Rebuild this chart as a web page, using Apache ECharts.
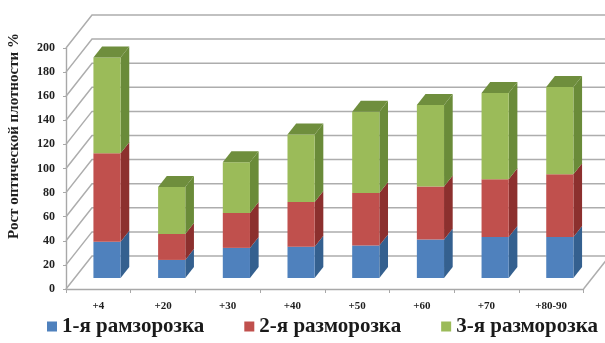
<!DOCTYPE html>
<html>
<head>
<meta charset="utf-8">
<script src="https://cdn.jsdelivr.net/npm/echarts@6/dist/echarts.min.js"></script>
<style>
  html, body { margin: 0; padding: 0; background: #ffffff; }
  #chart { width: 605px; height: 343px; }
</style>
</head>
<body>
<div id="chart"></div>
<script>
// Temperature groups on the x axis
const categories = ['+4', '+20', '+30', '+40', '+50', '+60', '+70', '+80-90'];
// Growth of optical density per thaw cycle, %
const thaw1 = [30, 15, 25, 26, 27, 32, 34, 34];
const thaw2 = [73.5, 21.5, 29, 37, 43.5, 44, 48, 52];
const thaw3 = [79.5, 39, 42, 56, 67.5, 67.5, 71.5, 72.5];
const seriesNames = ['1-я рамзорозка', '2-я разморозка', '3-я разморозка'];
const yTicks = [0, 20, 40, 60, 80, 100, 120, 140, 160, 180, 200];
const yTitle = 'Рост оптической плотности %';

// Oblique projection used for the pseudo-3D look
const WALL_DX = 26, WALL_DY = -33;          // depth of the back wall
const BAR_FX = WALL_DX / 3, BAR_FY = WALL_DY / 3;  // bar front plane shift
const BAR_DX = WALL_DX / 3, BAR_DY = WALL_DY / 3;  // bar thickness in depth
const BAR_RATIO = 0.42;

const palette = [
  { front: '#4F81BD', side: '#34608F', top: '#5A8AC3' },
  { front: '#C0504D', side: '#8C302E', top: '#C85C59' },
  { front: '#9BBB59', side: '#6A8B39', top: '#6F8E3D' }
];

const raw = [thaw1, thaw2, thaw3];
// Stacked bases and tops for each segment
const stacks = raw.map(() => []);
categories.forEach((c, i) => {
  let acc = 0;
  raw.forEach((arr, s) => {
    stacks[s].push([i, acc, acc + arr[i]]);
    acc += arr[i];
  });
});

function barRenderer(sIdx, isTopSeries) {
  const col = palette[sIdx];
  return function (params, api) {
    const i = api.value(0);
    const p0 = api.coord([i, api.value(1)]);
    const p1 = api.coord([i, api.value(2)]);
    const hw = api.size([1, 0])[0] * BAR_RATIO / 2;
    const x1 = p0[0] - hw + BAR_FX, x2 = p0[0] + hw + BAR_FX;
    const yb = p0[1] + BAR_FY, yt = p1[1] + BAR_FY;
    const children = [
      {
        type: 'polygon',
        shape: { points: [[x2, yt], [x2, yb], [x2 + BAR_DX, yb + BAR_DY], [x2 + BAR_DX, yt + BAR_DY]] },
        style: { fill: col.side }
      },
      {
        type: 'rect',
        shape: { x: x1, y: yt, width: x2 - x1, height: yb - yt },
        style: { fill: col.front }
      }
    ];
    if (isTopSeries) {
      children.push({
        type: 'polygon',
        shape: { points: [[x1, yt], [x2, yt], [x2 + BAR_DX, yt + BAR_DY], [x1 + BAR_DX, yt + BAR_DY]] },
        style: { fill: col.top }
      });
    }
    return { type: 'group', children: children };
  };
}

// Back wall with gridlines and the left side diagonals
function wallRenderer(params, api) {
  const v = api.value(1);
  const n = categories.length;
  const bw = api.size([1, 0])[0];
  const pL = api.coord([0, v]);
  const pR = api.coord([n - 1, v]);
  const left = pL[0] - bw / 2;
  const right = pR[0] + bw / 2;
  const y = pL[1];
  const children = [{
    type: 'polyline',
    shape: { points: [[left, y], [left + WALL_DX, y + WALL_DY], [right + WALL_DX, y + WALL_DY]] },
    style: { stroke: '#ADADAD', lineWidth: 1.5, fill: null }
  }];
  if (v === 0) {
    children.push({
      type: 'line',
      shape: { x1: right, y1: y, x2: right + WALL_DX, y2: y + WALL_DY },
      style: { stroke: '#ADADAD', lineWidth: 1.5 }
    });
  }
  return { type: 'group', children: children };
}

const serifBold = { fontFamily: 'Liberation Serif', fontWeight: 'bold', color: '#1f1f1f' };

const chart = echarts.init(document.getElementById('chart'), null, { renderer: 'canvas' });
chart.setOption({
  animation: false,
  backgroundColor: '#ffffff',
  grid: { left: 66, right: 21.5, top: 48, bottom: 54 },
  graphic: [{
    type: 'text',
    x: 14,
    y: 136,
    rotation: Math.PI / 2,
    style: {
      text: yTitle,
      fontSize: 15,
      fontFamily: 'Liberation Serif',
      fontWeight: 'bold',
      fill: '#1f1f1f',
      align: 'center',
      verticalAlign: 'middle'
    }
  }],
  legend: {
    data: seriesNames,
    top: 316,
    left: 47,
    width: 570,
    padding: 0,
    itemWidth: 10,
    itemHeight: 10,
    itemGap: 40,
    icon: 'rect',
    textStyle: Object.assign({}, serifBold, { fontSize: 21, color: '#1a1a1a' })
  },
  xAxis: {
    type: 'category',
    data: categories,
    boundaryGap: true,
    axisLine: { lineStyle: { color: '#A8A8A8', width: 1.4 } },
    axisTick: { show: true, length: 4, lineStyle: { color: '#A8A8A8' } },
    axisLabel: Object.assign({}, serifBold, { fontSize: 11, margin: 12 }),
    splitLine: { show: false }
  },
  yAxis: {
    type: 'value',
    min: 0,
    max: 200,
    interval: 20,
    axisLine: { show: true, lineStyle: { color: '#A8A8A8', width: 1.4 } },
    axisTick: { show: true, length: 3, lineStyle: { color: '#A8A8A8' } },
    axisLabel: Object.assign({}, serifBold, { fontSize: 12, margin: 11 }),
    splitLine: { show: false }
  },
  series: [
    {
      type: 'custom',
      name: 'wall',
      silent: true,
      z: 1,
      renderItem: wallRenderer,
      data: yTicks.map(v => [0, v])
    }
  ].concat(seriesNames.map((name, s) => ({
    type: 'custom',
    name: name,
    z: 2 + s,
    itemStyle: { color: palette[s].front },
    renderItem: barRenderer(s, s === seriesNames.length - 1),
    encode: { x: 0, y: [1, 2] },
    data: stacks[s]
  })))
});
</script>
</body>
</html>
